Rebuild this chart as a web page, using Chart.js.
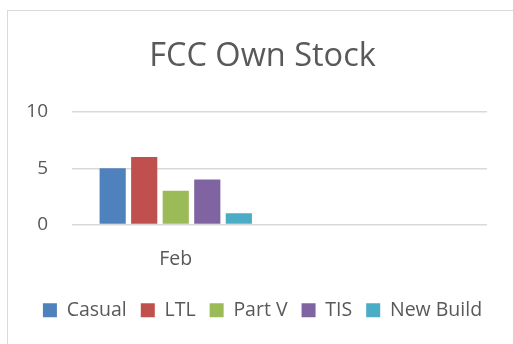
<!DOCTYPE html>
<html>
<head>
<meta charset="utf-8">
<script src="https://cdn.jsdelivr.net/npm/chart.js@4/dist/chart.umd.min.js"></script>
<style>
  html, body { margin: 0; padding: 0; background: #fff; overflow: hidden; }
  #frame {
    position: absolute; left: 7px; top: 10px;
    width: 600px; height: 400px;
    border: 1px solid #d9d9d9;
  }
  #wrap { position: absolute; left: 0; top: 0; width: 513px; height: 344px; }
</style>
</head>
<body>
<div id="frame"></div>
<div id="wrap"><canvas id="chart" width="513" height="344"></canvas></div>
<script>
// months on the category axis (second slot is left empty)
const meses = ["Feb", ""];
const casual   = [5];
const ltl      = [6];
const partV    = [3];
const tis      = [4];
const newBuild = [1];
const yTicks   = [0, 5, 10];

const CORES = {
  casual:   "#4f81bd",
  ltl:      "#c0504d",
  partV:    "#9bbb59",
  tis:      "#8064a2",
  newBuild: "#4bacc6",
  grid:     "#d9d9d9",
  texto:    "#595959",
};

const FONTE = "'Open Sans', sans-serif";

function serie(label, data, cor) {
  return {
    label,
    data,
    backgroundColor: cor,
    borderWidth: 0,
    categoryPercentage: 0.76,
    barPercentage: 0.83,
  };
}

new Chart(document.getElementById("chart"), {
  type: "bar",
  data: {
    labels: meses,
    datasets: [
      serie("Casual",    casual,   CORES.casual),
      serie("LTL",       ltl,      CORES.ltl),
      serie("Part V",    partV,    CORES.partV),
      serie("TIS",       tis,      CORES.tis),
      serie("New Build", newBuild, CORES.newBuild),
    ]
  },
  options: {
    responsive: false,
    animation: false,
    layout: { padding: { left: 12, right: 0, top: 0, bottom: 14 } },
    plugins: {
      title: {
        display: true,
        text: "FCC Own Stock",
        color: CORES.texto,
        font: { family: FONTE, size: 32.5, weight: "normal" },
        padding: { top: 37, bottom: 36 },
      },
      legend: {
        position: "bottom",
        labels: {
          color: CORES.texto,
          font: { family: FONTE, size: 19.5 },
          boxWidth: 14,
          boxHeight: 14,
          padding: 14,
        }
      },
      tooltip: { enabled: false }
    },
    scales: {
      x: {
        grid: { display: false },
        border: { display: false },
        ticks: { color: CORES.texto, font: { family: FONTE, size: 19.5 }, padding: 15 },
        afterFit: s => { s.height = 62; }
      },
      y: {
        min: 0,
        max: 10,
        afterBuildTicks: s => { s.ticks = yTicks.map(v => ({ value: v })); },
        grid: { color: CORES.grid, lineWidth: 1.5, drawTicks: false },
        border: { display: false },
        ticks: { color: CORES.texto, font: { family: FONTE, size: 19 }, padding: 24 },
        afterFit: s => { s.width = 60; }
      },
      // empty strip on the right so the plot stops short of the edge
      yr: {
        position: "right",
        grid: { display: false },
        border: { display: false },
        ticks: { display: false },
        afterFit: s => { s.width = 26; }
      }
    }
  }
});
</script>
</body>
</html>
